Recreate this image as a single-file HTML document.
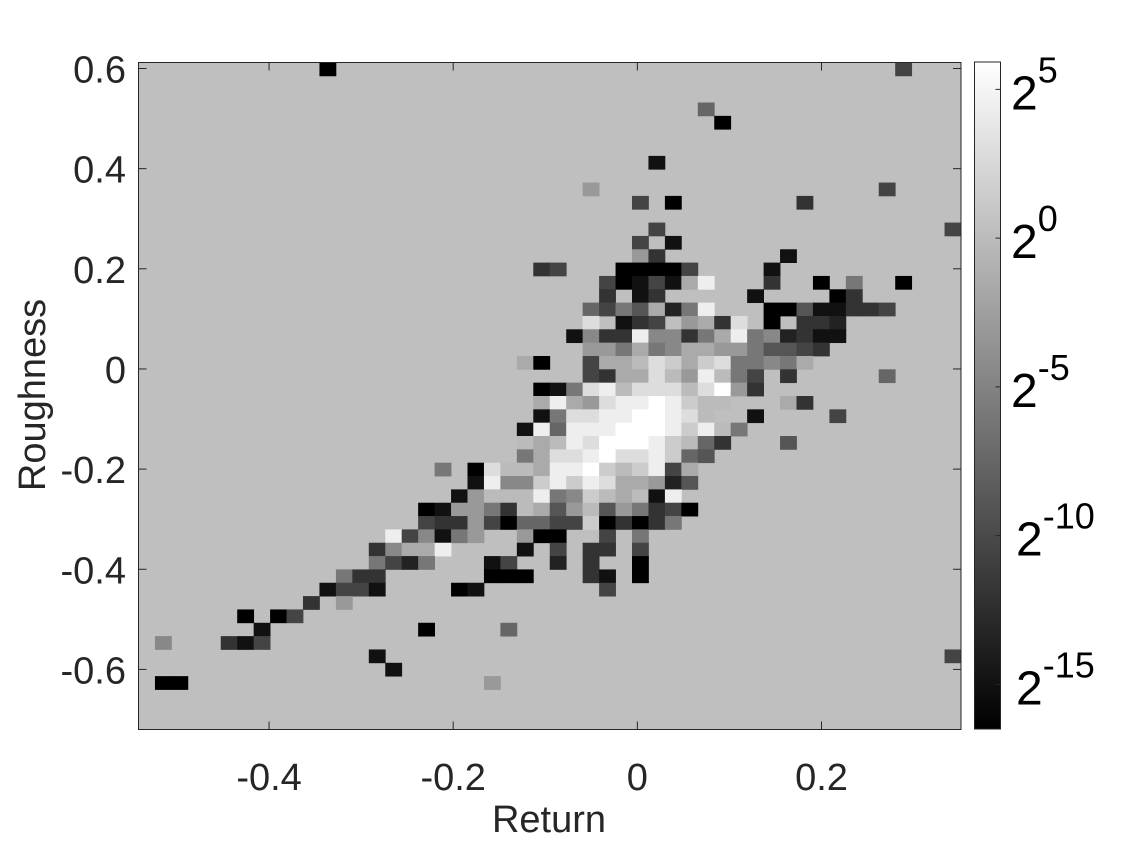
<!DOCTYPE html>
<html><head><meta charset="utf-8">
<style>
html,body{margin:0;padding:0;background:#fff;}
svg{display:block;font-family:"Liberation Sans",Arial,sans-serif;}
</style></head>
<body>
<svg id="chart" width="1128" height="842" viewBox="0 0 1128 842" xmlns="http://www.w3.org/2000/svg">
<rect width="1128" height="842" fill="#fff"/>
<g id="cells"></g>
<g id="axes"></g>
<g id="cbar"></g>
</svg>
<script>
// ---- data ----
const nBins = 50;
const xRange = [-0.5418, 0.3515];
const yRange = [-0.72, 0.612];
const xTicks = [-0.4, -0.2, 0, 0.2];
const xTickLabels = ["-0.4", "-0.2", "0", "0.2"];
const yTicks = [0.6, 0.4, 0.2, 0, -0.2, -0.4, -0.6];
const yTickLabels = ["0.6", "0.4", "0.2", "0", "-0.2", "-0.4", "-0.6"];
const cbarTicks = [5, 0, -5, -10, -15];
const cbarRange = [-16.5, 5.92];
// sparse rows: "col:level(hex 0-f)"; row 0 = top bin
const rowCells = {
0:"11:0,46:4",
3:"34:6",
4:"35:0",
7:"31:1",
9:"27:9,45:4",
10:"30:4,32:0,40:3",
12:"31:4,49:4",
13:"30:4,32:1",
14:"30:9,31:3,39:1",
15:"24:3,25:4,29:0,30:0,31:0,32:0,33:4,38:1",
16:"28:4,29:0,30:1,31:4,32:1,33:a,34:e,38:3,41:0,43:7,46:0",
17:"28:3,30:1,31:3,37:1,42:0,43:3",
18:"27:6,28:4,29:7,30:5,31:a,32:2,33:7,34:e,38:0,39:0,40:5,41:1,42:1,43:3,44:3,45:4",
19:"27:d,29:1,30:3,31:4,33:9,34:a,35:3,36:d,38:0,40:3,41:3,42:2",
20:"26:1,27:8,28:3,29:3,30:e,31:8,32:8,33:3,34:7,35:a,36:e,37:7,38:8,39:2,40:3,41:1,42:1",
21:"27:9,28:9,29:7,30:a,31:7,32:8,33:a,34:a,35:9,36:9,37:7,38:5,39:5,40:4,41:3",
22:"23:a,24:0,27:4,28:a,29:a,30:b,31:d,32:c,33:a,34:c,35:d,36:7,37:7,38:8,39:7,40:a",
23:"27:4,28:3,29:a,30:a,31:d,32:b,33:9,34:e,35:b,36:7,37:4,39:3,45:6",
24:"24:0,25:1,26:7,27:d,28:e,29:b,30:d,31:d,32:d,33:b,34:d,35:f,36:9,37:3",
25:"24:a,25:e,26:a,27:9,28:d,29:e,30:e,31:f,32:e,33:c,34:b,35:b,39:a,40:3",
26:"24:1,25:7,26:d,27:d,28:e,29:e,30:f,31:f,32:e,33:d,34:b,37:1,42:4",
27:"23:1,24:e,25:6,26:e,27:e,28:e,29:f,30:f,31:f,32:e,33:c,34:e,35:b,36:7",
28:"23:b,24:a,25:b,26:e,27:d,28:f,29:f,30:f,31:e,32:c,33:b,34:6,35:3,39:5",
29:"23:7,24:a,25:d,26:d,27:e,28:f,29:d,30:d,31:e,32:c,33:6,34:5",
30:"18:7,20:0,21:d,22:b,23:b,24:a,25:e,26:e,27:f,28:c,29:b,30:c,31:e,32:4,33:a",
31:"20:1,21:e,22:8,23:8,24:c,25:e,26:c,27:e,28:d,29:a,30:a,31:9,32:2,33:5",
32:"19:1,20:9,21:b,22:b,23:b,24:e,25:7,26:8,27:c,28:b,29:a,30:b,31:1,32:e",
33:"17:0,18:1,19:9,20:9,21:7,22:3,23:b,24:a,25:5,26:9,27:b,28:5,29:9,30:7,31:3,32:4,33:0",
34:"17:4,18:3,19:3,20:9,21:4,22:0,23:6,24:6,25:4,26:4,27:c,28:0,29:3,30:0,31:3,32:7",
35:"15:e,16:4,17:8,18:1,19:7,20:9,23:9,24:0,25:0,28:4,30:7",
36:"14:3,15:8,16:a,17:a,18:e,23:1,25:4,27:3,28:3,30:4",
37:"14:7,15:4,16:2,17:7,21:1,22:4,25:2,27:3,30:0",
38:"12:7,13:3,14:3,21:0,22:0,23:0,27:3,28:1,30:0",
39:"11:1,12:4,13:4,14:1,19:0,20:1,28:4",
40:"10:3,12:9",
41:"6:0,8:0,9:4",
42:"7:1,17:0,22:6",
43:"1:8,5:3,6:1,7:4",
44:"14:1,49:4",
45:"15:1",
46:"1:0,2:0,21:9"
};
// ---- layout ----
const P = {l:138.5, r:961, t:62.5, b:729.5};
const NS = "http://www.w3.org/2000/svg";
function sx(v){return P.l + (v - xRange[0])/(xRange[1]-xRange[0])*(P.r-P.l);}
function sy(v){return P.b - (v - yRange[0])/(yRange[1]-yRange[0])*(P.b-P.t);}
function mk(tag, attrs, parent){const e=document.createElementNS(NS,tag);for(const k in attrs)e.setAttribute(k,attrs[k]);parent.appendChild(e);return e;}
function levelToExp(l){return cbarRange[0] + l/15*(cbarRange[1]-cbarRange[0]);}
function expToGray(e){let g=Math.round((e-cbarRange[0])/(cbarRange[1]-cbarRange[0])*255);g=Math.max(0,Math.min(255,g));return `rgb(${g},${g},${g})`;}

const cells = document.getElementById('cells');
const bg = mk('rect',{x:P.l,y:P.t,width:P.r-P.l,height:P.b-P.t,fill:expToGray(0.3)},cells);


const dx = (xRange[1]-xRange[0])/nBins, dy = (yRange[1]-yRange[0])/nBins;
for (const r in rowCells){
  rowCells[r].split(',').forEach(s=>{
    const [c,l] = s.split(':');
    const col = +c, lev = parseInt(l,16);
    const x0 = xRange[0] + col*dx, y1 = yRange[1] - (+r)*dy;
    const x = sx(x0), y = sy(y1);
    const w = sx(x0+dx)-x, h = sy(y1-dy)-y;
    const e = mk('rect',{x:x.toFixed(2),y:y.toFixed(2),width:(w+0.4).toFixed(2),height:(h+0.4).toFixed(2),fill:expToGray(levelToExp(lev))},cells);
    
    
  });
}
const axes = document.getElementById('axes');
const frame = mk('rect',{x:P.l,y:P.t,width:P.r-P.l,height:P.b-P.t,fill:'none',stroke:'#262626','stroke-width':1},axes);


xTicks.forEach((v,i)=>{
  const x = sx(v);
  mk('line',{x1:x,x2:x,y1:P.b,y2:P.b-8,stroke:'#262626'},axes);
  mk('line',{x1:x,x2:x,y1:P.t,y2:P.t+8,stroke:'#262626'},axes);
  const t = mk('text',{x:x,y:790,'font-size':38,'text-anchor':'middle',fill:'#262626'},axes);
  t.textContent = xTickLabels[i];
  
  
});
yTicks.forEach((v,i)=>{
  const y = sy(v);
  mk('line',{x1:P.l,x2:P.l+8,y1:y,y2:y,stroke:'#262626'},axes);
  mk('line',{x1:P.r,x2:P.r-8,y1:y,y2:y,stroke:'#262626'},axes);
  const t = mk('text',{x:126,y:y+14,'font-size':38,'text-anchor':'end',fill:'#262626'},axes);
  t.textContent = yTickLabels[i];
  
  
});
const xt = mk('text',{x:549,y:832,'font-size':38,'text-anchor':'middle',fill:'#262626'},axes);
xt.textContent='Return';


const yt = mk('text',{x:0,y:0,'font-size':38,'text-anchor':'middle',fill:'#262626',transform:'translate(45,395) rotate(-90)'},axes);
yt.textContent='Roughness';



// colorbar
const cb = document.getElementById('cbar');
const C = {l:974.5, r:1000.5, t:62, b:729};
const defs = mk('defs',{},cb);
const grad = mk('linearGradient',{id:'cbg',x1:0,y1:1,x2:0,y2:0},defs);
mk('stop',{offset:0,'stop-color':'#000'},grad);
mk('stop',{offset:1,'stop-color':'#fff'},grad);
const cbr = mk('rect',{x:C.l,y:C.t,width:C.r-C.l,height:C.b-C.t,fill:'url(#cbg)',stroke:'#262626','stroke-width':1},cb);


function cy(e){return C.b - (e-cbarRange[0])/(cbarRange[1]-cbarRange[0])*(C.b-C.t);}
cbarTicks.forEach(e=>{
  const y = cy(e);
  mk('line',{x1:C.r,x2:C.r-5,y1:y,y2:y,stroke:'#262626'},cb);
  const t = mk('text',{x:e<=-10?1016:1011,y:y+20,'font-size':48,fill:'#000'},cb);
  
  
  const b = mk('tspan',{},t); b.textContent='2';
  const s = mk('tspan',{dy:-27,'font-size':36},t); s.textContent=String(e).replace('-','-');
});
</script>
</body></html>
